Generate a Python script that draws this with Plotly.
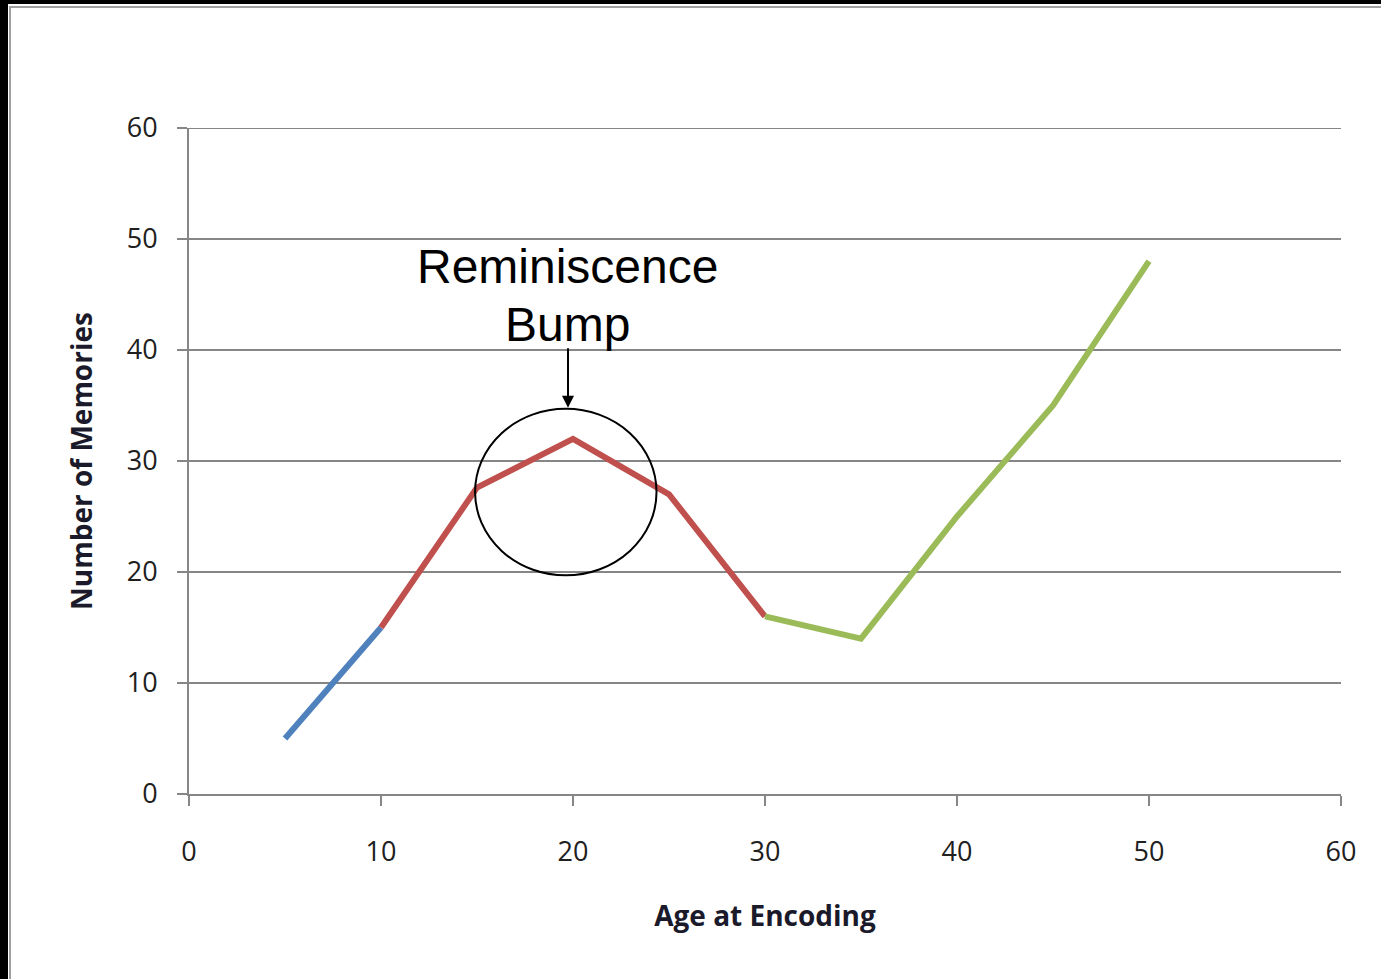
import plotly.graph_objects as go

# Data
blue_age = [5, 10]
blue_mem = [5, 15]
red_age = [10, 15, 20, 25, 30]
red_mem = [15, 27.6, 32, 27, 16]
green_age = [30, 35, 40, 45, 50]
green_mem = [16, 14, 25, 35, 48]
tick_vals = [0, 10, 20, 30, 40, 50, 60]

W, H = 1381, 979
ML, MR, MT, MB = 189, 40, 128, 185
PW = W - ML - MR
PH = H - MT - MB

fig = go.Figure()
for xs, ys, col in [(blue_age, blue_mem, "#4F81BD"),
                    (red_age, red_mem, "#C0504D"),
                    (green_age, green_mem, "#9BBB59")]:
    fig.add_trace(go.Scatter(x=xs, y=ys, mode="lines",
                             line=dict(color=col, width=6), showlegend=False,
                             hoverinfo="skip"))

# Top gridline at 60
fig.add_shape(type="line", xref="paper", yref="y", x0=0, x1=1, y0=60, y1=60,
              line=dict(color="#868686", width=2), layer="below")

# Circle around bump
fig.add_shape(type="circle", xref="x", yref="y", x0=14.9, x1=24.35, y0=19.7, y1=34.7,
              line=dict(color="black", width=2))

# Arrow
fig.add_annotation(x=19.74, y=34.8, xref="x", yref="y", ax=0, ay=-61, axref="pixel", ayref="pixel",
                   showarrow=True, arrowhead=2, arrowsize=1.2, arrowwidth=2, arrowcolor="black", text="")
fig.add_annotation(x=19.7, y=47.5, xref="x", yref="y", text="Reminiscence", showarrow=False,
                   font=dict(family="Liberation Sans, Arial", size=48, color="black"))
fig.add_annotation(x=19.7, y=42.3, xref="x", yref="y", text="Bump", showarrow=False,
                   font=dict(family="Liberation Sans, Arial", size=48, color="black"))

# Frame (black band left/top + gray line)
def px_x(p):
    return (p - ML) / PW
def px_y(p):
    return 1 - (p - MT) / PH
fig.add_shape(type="rect", xref="paper", yref="paper", x0=px_x(0), x1=px_x(8), y0=px_y(0), y1=px_y(H),
              fillcolor="black", line=dict(width=0), layer="above")
fig.add_shape(type="rect", xref="paper", yref="paper", x0=px_x(0), x1=px_x(W), y0=px_y(0), y1=px_y(4),
              fillcolor="black", line=dict(width=0), layer="above")
fig.add_shape(type="line", xref="paper", yref="paper", x0=px_x(10), x1=px_x(10), y0=px_y(6), y1=px_y(H),
              line=dict(color="#A0A0A0", width=2))
fig.add_shape(type="line", xref="paper", yref="paper", x0=px_x(10), x1=px_x(W), y0=px_y(7), y1=px_y(7),
              line=dict(color="#A0A0A0", width=2))

tick_font = dict(family="Open Sans", size=27, color="#202020")
title_font = dict(family="Open Sans", size=28, color="#1a1a2a", weight="bold")

fig.update_xaxes(range=[0, 60], tickvals=tick_vals, ticks="outside", ticklen=10, tickwidth=2,
                 tickcolor="#868686", showline=True, linecolor="#868686", linewidth=2,
                 showgrid=False, zeroline=False, tickfont=tick_font, ticklabelstandoff=23,
                 title=dict(text="Age at Encoding", font=title_font, standoff=38))
fig.update_yaxes(range=[0, 60], tickvals=tick_vals, ticks="outside", ticklen=10, tickwidth=2,
                 tickcolor="#868686", showline=True, linecolor="#868686", linewidth=2,
                 showgrid=True, gridcolor="#868686", gridwidth=2, zeroline=False,
                 tickfont=tick_font, ticklabelstandoff=14,
                 title=dict(text="Number of Memories", font=title_font, standoff=26))

fig.update_layout(width=W, height=H, margin=dict(l=ML, r=MR, t=MT, b=MB, autoexpand=False),
                  paper_bgcolor="white", plot_bgcolor="white")

fig.write_html("out.html", config={"displayModeBar": False},
               post_script="document.body.style.margin='0';document.body.style.overflow='hidden';")
